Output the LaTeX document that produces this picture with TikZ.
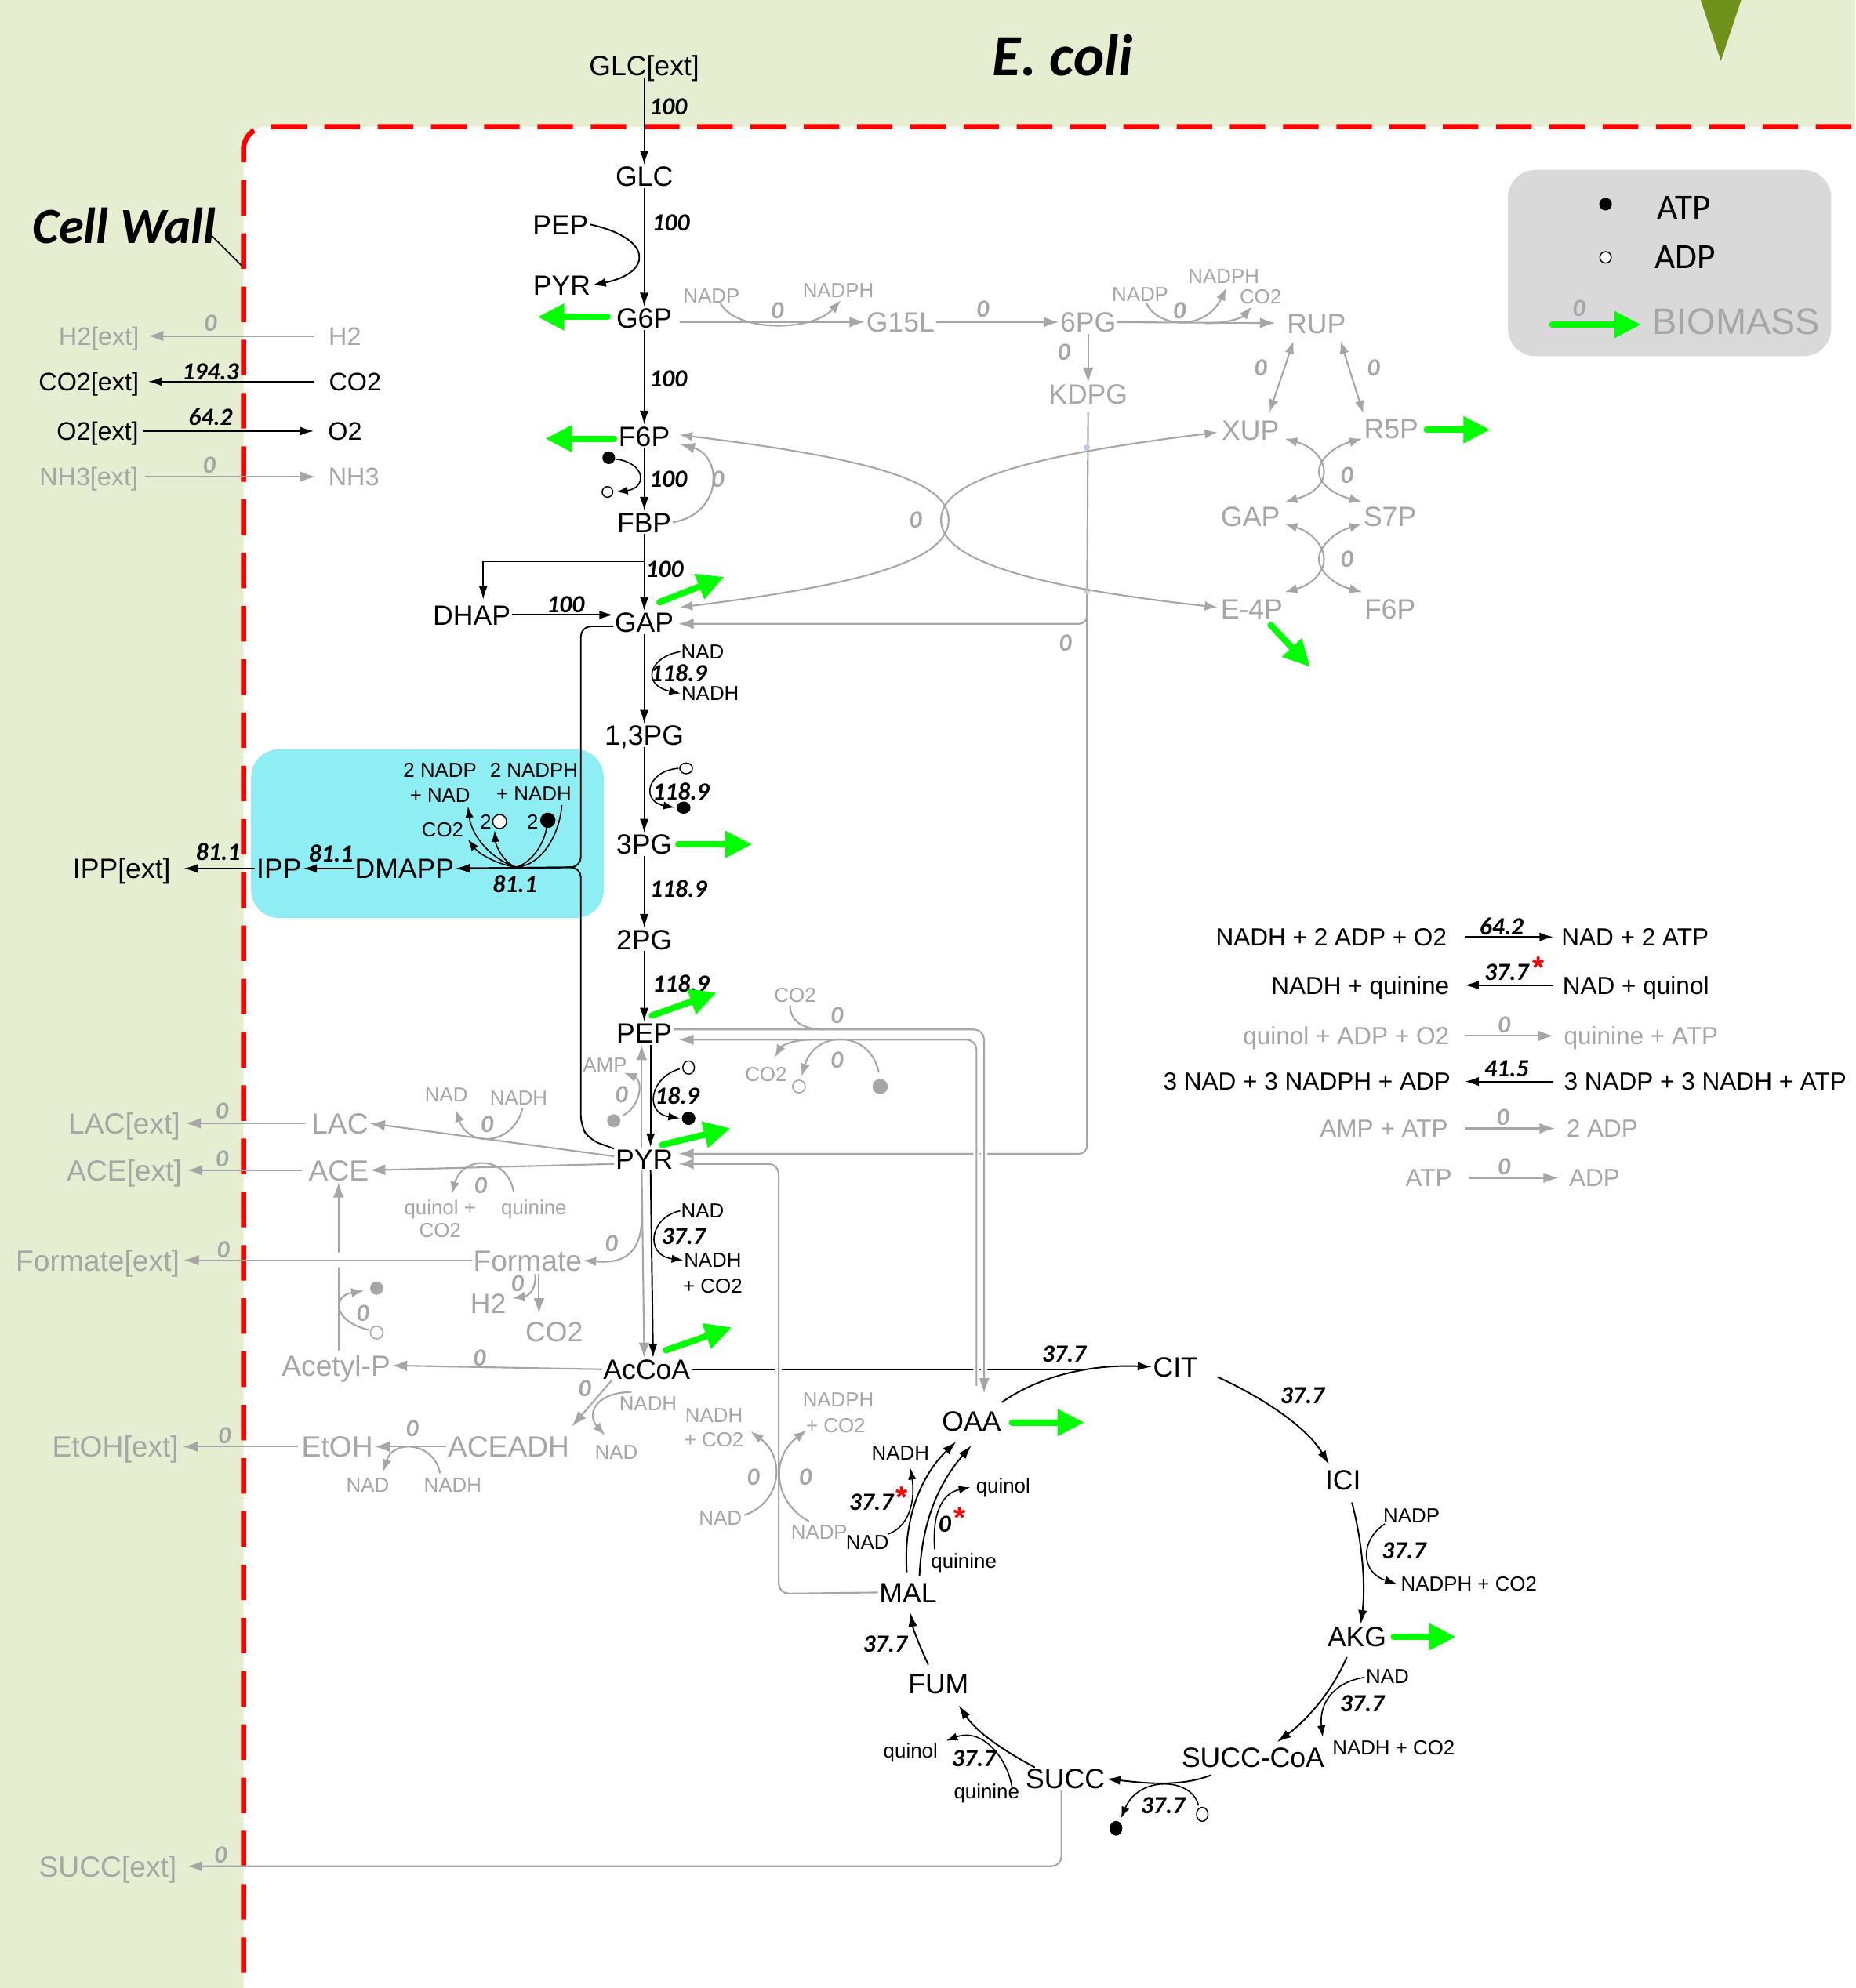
\documentclass[tikz,border=0pt]{standalone}
\usepackage{fontspec}
\setmainfont{Liberation Sans}
\newfontfamily\carl{Carlito}
\usetikzlibrary{arrows.meta}
\definecolor{bgg}{RGB}{229,238,208}
\definecolor{gr}{RGB}{166,166,166}
\definecolor{cyb}{RGB}{143,238,244}
\definecolor{lgb}{RGB}{217,217,217}
\definecolor{bio}{RGB}{0,255,0}
\definecolor{oliv}{RGB}{110,145,25}
\definecolor{wred}{RGB}{255,0,0}
\definecolor{jmp}{RGB}{185,205,230}
\begin{document}
\begin{tikzpicture}[x=1pt,y=-1pt,
 m/.style={font=\fontsize{22}{24}\selectfont,inner sep=1pt,text height=15.8pt,text depth=0pt},
 mg/.style={m,text=gr},
 xs/.style={font=\fontsize{20}{22}\selectfont,inner sep=1pt,text height=14.3pt,text depth=0pt},
 xg/.style={xs,text=gr},
 fg/.style={font=\fontsize{23}{25}\selectfont,inner sep=1pt,text height=16.5pt,text depth=0pt,text=gr},
 cf/.style={font=\fontsize{16}{17}\selectfont,inner sep=0.5pt,text height=11.5pt,text depth=0pt},
 cg/.style={cf,text=gr},
 nm/.style={font=\carl\bfseries\itshape\fontsize{19.5}{20}\selectfont,inner sep=0pt},
 ng/.style={nm,text=gr},
 rx/.style={font=\fontsize{19.5}{20}\selectfont,inner sep=0pt,text height=14pt,text depth=0pt},
 rg/.style={rx,text=gr},
 ast/.style={text=wred,font=\bfseries\fontsize{24}{24}\selectfont,inner sep=0pt},
 ln/.style={draw=black,line width=1.2pt},
 arr/.style={ln,-{Latex[length=11pt,width=7pt]}},
 sarr/.style={draw=black,line width=1pt,-{Latex[length=9pt,width=6.5pt]}},
 gln/.style={draw=gr,line width=1.3pt},
 garr/.style={gln,-{Latex[length=12pt,width=8.5pt]}},
 gsarr/.style={gln,-{Latex[length=10pt,width=7.5pt]}},
 gbi/.style={gln,{Latex[length=10pt,width=7.5pt]}-{Latex[length=10pt,width=7.5pt]}},
 bioarr/.style={draw=bio,line width=5pt,line cap=round,-{Triangle[length=21pt,width=20pt]}},
 wgap/.style={preaction={draw=white,line width=5pt,arrows=-}},
]
\useasboundingbox (0,0) rectangle (1463,1568);
% ---------- background ----------
\fill[bgg] (0,0) rectangle (1463,1568);
\fill[white,rounded corners=18pt] (192,1640) -- (192,100) -- (1540,100) -- (1540,1640) -- cycle;
\draw[wred,line width=4pt,dash pattern=on 28pt off 14pt,rounded corners=18pt] (192,1640) -- (192,100) -- (1540,100);
\fill[oliv] (1341,0) -- (1373,0) -- (1357,48) -- cycle;
\node[font=\carl\bfseries\itshape\fontsize{46}{50}\selectfont,inner sep=0] (title) at (838,44) {E. coli};
\node[font=\carl\bfseries\itshape\fontsize{40}{44}\selectfont,inner sep=0] (cw) at (98,178) {Cell Wall};
\draw[line width=1pt] (167,186) -- (191,210);
% ---------- legend ----------
\fill[lgb,rounded corners=22pt] (1189,134) rectangle (1444,281);
\fill (1266,161) circle (5);
\node[font=\carl\fontsize{28}{30}\selectfont] (latp) at (1328,164) {ATP};
\draw[line width=0.9pt,fill=white] (1266,203) circle (4.5);
\node[font=\carl\fontsize{28}{30}\selectfont] (ladp) at (1329,203) {ADP};
\coordinate (lb1) at (1224,256);
\coordinate (lb2) at (1294,256);
\draw[bioarr] (lb1) -- (lb2);
\node[ng] at (1245,243) {0};
\node[font=\fontsize{29}{30}\selectfont,text=gr] (lbio) at (1369,254) {BIOMASS};
% ---------- cyan box ----------
\fill[cyb,rounded corners=22pt] (198,591) rectangle (476,724);
% ---------- main nodes ----------
\node[m] (GLCe) at (508,52) {GLC[ext]};
\node[m] (GLC) at (508,139) {GLC};
\node[m] (PEPa) at (442,177) {PEP};
\node[m] (PYRa) at (443,225) {PYR};
\node[m] (G6P) at (508,251) {G6P};
\node[m] (F6P) at (508,344) {F6P};
\node[m] (FBP) at (508,412) {FBP};
\node[m] (DHAP) at (372,485) {DHAP};
\node[m] (GAP) at (508,491) {GAP};
\node[m] (PGa) at (508,580) {1,3PG};
\node[m] (PGb) at (508,666) {3PG};
\node[m] (PGc) at (508,741) {2PG};
\node[m] (PEP) at (508,815) {PEP};
\node[m] (PYR) at (508,914) {PYR};
\node[m] (AcCoA) at (510,1080) {AcCoA};
\node[m] (CIT) at (927,1078) {CIT};
\node[m] (ICI) at (1059,1167) {ICI};
\node[m] (AKG) at (1070,1291) {AKG};
\node[m] (SCoA) at (988,1386) {SUCC-CoA};
\node[m] (SUCC) at (840,1403) {SUCC};
\node[m] (FUM) at (740,1328) {FUM};
\node[m] (MAL) at (716,1256) {MAL};
\node[m] (OAA) at (766,1121) {OAA};
\node[m] (DMAPP) at (319,685) {DMAPP};
\node[m] (IPP) at (220,685) {IPP};
\node[m] (IPPe) at (96,685) {IPP[ext]};
% pentose
\node[mg] (G15L) at (710,254) {G15L};
\node[mg] (PG6) at (858,254) {6PG};
\node[mg] (KDPG) at (858,311) {KDPG};
\node[mg] (RUP) at (1038,255) {RUP};
\node[mg] (XUP) at (986,339) {XUP};
\node[mg] (R5P) at (1097,338) {R5P};
\node[mg] (GAPr) at (986,407) {GAP};
\node[mg] (S7P) at (1096,407) {S7P};
\node[mg] (E4P) at (987,480) {E-4P};
\node[mg] (F6Pr) at (1096,480) {F6P};
% exchange
\node[xg] (H2e) at (78,265) {H2[ext]};
\node[xg] (H2) at (272,265) {H2};
\node[xs] (CO2e) at (70,301) {CO2[ext]};
\node[xs] (CO2) at (280,301) {CO2};
\node[xs] (O2e) at (77,340) {O2[ext]};
\node[xs] (O2) at (272,340) {O2};
\node[xg] (NH3e) at (70,376) {NH3[ext]};
\node[xg] (NH3) at (279,376) {NH3};
% fermentation
\node[fg] (LAC) at (268,886) {LAC};
\node[fg] (ACE) at (267,923) {ACE};
\node[fg] (Form) at (416,994) {Formate};
\node[mg] (H2f) at (385,1028) {H2};
\node[mg] (CO2f) at (437,1050) {CO2};
\node[fg] (AcP) at (265,1077) {Acetyl-P};
\node[fg] (EtOH) at (266,1141) {EtOH};
\node[fg] (ACEADH) at (401,1141) {ACEADH};
\node[fg] (LACe) at (98,886) {LAC[ext]};
\node[fg] (ACEe) at (98,923) {ACE[ext]};
\node[fg] (Forme) at (77,994) {Formate[ext]};
\node[fg] (EtOHe) at (91,1141) {EtOH[ext]};
\node[fg] (SUCCe) at (85,1472) {SUCC[ext]};
% ---------- long gray lines with crossings ----------
\draw[ln] (AcCoA.east) -- (853,1080);
\draw[garr,rounded corners=6pt,shorten <=5pt] (KDPG.south) -- (857,492) -- (535,492);
\draw[garr,rounded corners=6pt] (857,480) -- (857,910) -- (535,910);
\draw[garr,wgap,rounded corners=8pt] ([yshift=3pt]PEP.east) -- (776,812) -- (776,1099);
\draw[garr,wgap,rounded corners=8pt] (770,1093) -- (770,820) -- (535,820);
\draw[garr,wgap,rounded corners=8pt] (MAL.west) -- (614,1257) -- (614,918) -- (535,918);
\fill[jmp] (857,353) circle (2.5);
\fill[jmp] (857,466) circle (2.5);
% ---------- glycolysis ----------
\draw[arr] (GLCe) -- (GLC);
\node[nm] at (527,84) {100};
\draw[arr] (GLC) -- (G6P);
\node[nm] at (529,176) {100};
\draw[arr] (PEPa.east) .. controls (515,188) and (515,215) .. (PYRa.east);
\draw[arr] (G6P) -- (F6P);
\node[nm] at (527,299) {100};
\draw[arr] (F6P) -- (FBP);
\node[nm] at (527,378) {100};
\fill (480,361) circle (5);
\draw[line width=0.9pt,fill=white] (479,388) circle (4.2);
\draw[sarr] (485,362) .. controls (510,365) and (510,385) .. (486,388);
\draw[garr] (FBP.east) .. controls (570,405) and (570,360) .. (536,350);
\node[ng] at (566,378) {0};
\draw[arr] (FBP) -- (GAP);
\node[nm] at (524,449) {100};
\draw[arr] (508,443) -- (381,443) -- (381,473);
\draw[arr] (DHAP.east) -- (DHAP.east -| GAP.west);
\node[nm] at (446,477) {100};
\node[cf] (nad1) at (554,514) {NAD};
\node[cf] (nadh1) at (560,547) {NADH};
\draw[arr] (GAP) -- (PGa);
\draw[sarr] (nad1.west) .. controls (512,518) and (505,540) .. (nadh1.west);
\node[nm] at (535,531) {118.9};
\draw[arr] (PGa) -- (PGb);
\draw[line width=0.9pt,fill=white] (541,606) ellipse (5 and 4.2);
\fill (539,637) ellipse (5.5 and 4.8);
\draw[sarr] (535,606) .. controls (510,608) and (505,632) .. (532,637);
\node[nm] at (537,624) {118.9};
\draw[arr] (PGb) -- (PGc);
\node[nm] at (535,701) {118.9};
\draw[arr] (PGc) -- (PEP);
\node[nm] at (537,776) {118.9};
\draw[arr] ([xshift=5pt]PEP.south) -- ([xshift=5pt]PYR.north);
\draw[garr] ([xshift=-2pt]PYR.north) -- ([xshift=-2pt]PEP.south);
\draw[line width=0.9pt,fill=white] (543,842) ellipse (4.6 and 5.2);
\fill (543,882) circle (5.3);
\draw[sarr] (536,843) .. controls (512,850) and (508,878) .. (536,882);
\node[nm] at (534,864) {18.9};
\node[cg] (amp) at (477,840) {AMP};
\fill[gr] (484,884) circle (5.2);
\draw[gsarr] (491,880) .. controls (506,872) and (507,852) .. (492,846);
\node[ng] at (490,863) {0};
\draw[arr] ([xshift=5pt]PYR.south) -- ([xshift=5pt]AcCoA.north);
\draw[garr] ([xshift=-2pt]PYR.south) -- ([xshift=-2pt]AcCoA.north);
\node[cf] (nad2) at (554,955) {NAD};
\node[cf] (nadh2) at (562,994) {NADH};
\node[cf] at (562,1014) {+ CO2};
\draw[sarr] (nad2.west) .. controls (512,960) and (508,990) .. (nadh2.west);
\node[nm] at (539,975) {37.7};
\draw[gsarr] (506,960) .. controls (506,990) and (490,997) .. (Form.east);
\node[ng] at (482,981) {0};
% ---------- IPP ----------
\draw[arr,rounded corners=8pt] ([yshift=-3pt]GAP.west) -- (458,494) -- (458,684) -- (DMAPP.east);
\draw[arr,rounded corners=8pt] ([yshift=8pt]PYR.west) -- (465,899) -- (458,888) -- (458,684) -- (DMAPP.east);
\coordinate (fan) at (407,684);
\draw[sarr] (fan) .. controls (393,682) and (378,674) .. (369,662);
\draw[sarr] (fan) .. controls (388,678) and (372,660) .. (369,636);
\draw[sarr] (fan) .. controls (398,681) and (391,668) .. (390,655);
\draw[draw=black,line width=1pt] (fan) .. controls (420,680) and (429,665) .. (431,653);
\draw[draw=black,line width=1pt] (fan) .. controls (426,683) and (441,660) .. (443,635);
\node[cf] at (347,607) {2 NADP};
\node[cf] at (347,627) {+ NAD};
\node[cf] at (421,607) {2 NADPH};
\node[cf] at (421,626) {+ NADH};
\node[cf] at (349,654) {CO2};
\node[cf] at (383,648) {2};
\draw[line width=0.9pt,fill=white] (394,648) circle (5.5);
\node[cf] at (420,648) {2};
\fill (432,647) circle (6);
\node[nm] at (406,697) {81.1};
\draw[arr] (DMAPP.west) -- (IPP.east);
\node[nm] at (261,673) {81.1};
\draw[arr,shorten >=9pt] (IPP.west) -- (IPPe.east);
\node[nm] at (172,672) {81.1};
% ---------- exchanges ----------
\draw[garr,shorten <=10pt,shorten >=6pt] (H2.west) -- (H2e.east);
\node[ng] at (166,255) {0};
\draw[arr,shorten <=10pt,shorten >=6pt] (CO2.west) -- (CO2e.east);
\node[nm] at (166,293) {194.3};
\draw[arr,shorten <=2pt,shorten >=10pt] (O2e.east) -- (O2.west);
\node[nm] at (166,329) {64.2};
\draw[garr,shorten <=4pt,shorten >=9pt] (NH3e.east) -- (NH3.west);
\node[ng] at (165,367) {0};
% ---------- pentose phosphate ----------
\node[cg] (nadp1) at (561,233) {NADP};
\node[cg] (nadph1) at (661,229) {NADPH};
\draw[garr] ([xshift=5pt,yshift=-3pt]G6P.east) -- (G15L.west);
\draw[gsarr] (568,239) .. controls (580,262) and (640,262) .. (663,237);
\node[ng] at (613,245) {0};
\draw[garr] (G15L) -- (PG6);
\node[ng] at (775,244) {0};
\node[cg] (nadp2) at (899,232) {NADP};
\node[cg] (nadph2) at (965,218) {NADPH};
\node[cg] (co2a) at (994,234) {CO2};
\draw[garr,shorten >=8pt] (PG6) -- (RUP);
\draw[gsarr] (904,239) .. controls (912,258) and (950,262) .. (967,227);
\draw[gsarr] (950,255) .. controls (970,255) and (980,250) .. (987,242);
\node[ng] at (930,245) {0};
\draw[garr] (PG6) -- (KDPG);
\node[ng] at (839,278) {0};
\node[ng] at (840,507) {0};
\draw[gbi] (1020,269) -- (1001,325);
\node[ng] at (994,290) {0};
\draw[gbi] (1057,269) -- (1075,326);
\node[ng] at (1083,290) {0};
\draw[gbi] (1013,346) .. controls (1035,352) and (1044,362) .. (1044,372) .. controls (1044,382) and (1035,390) .. (1013,396);
\draw[gbi] (1074,346) .. controls (1052,352) and (1040,362) .. (1040,372) .. controls (1040,382) and (1052,390) .. (1074,396);
\node[ng] at (1062,375) {0};
\draw[gbi] (1013,413) .. controls (1035,420) and (1044,431) .. (1044,441) .. controls (1044,451) and (1035,461) .. (1013,467);
\draw[gbi] (1074,413) .. controls (1052,420) and (1040,431) .. (1040,441) .. controls (1040,451) and (1052,461) .. (1074,467);
\node[ng] at (1062,441) {0};
\draw[gbi] (536,343) .. controls (690,362) and (748,380) .. (748,410) .. controls (748,440) and (690,460) .. (536,479);
\draw[gbi] (960,341) .. controls (805,360) and (742,380) .. (742,410) .. controls (742,440) and (805,462) .. (960,479);
\node[ng] at (722,410) {0};
% ---------- fermentation ----------
\draw[garr] ([yshift=2pt]PYR.west) -- (LAC.east);
\draw[garr] ([yshift=-4pt]PYR.west) -- (ACE.east);
\node[cg] at (352,863) {NAD};
\node[cg] at (409,866) {NADH};
\draw[gsarr] (412,874) .. controls (405,903) and (370,906) .. (359,875);
\node[ng] at (384,887) {0};
\node[cg] at (347,952) {quinol +};
\node[cg] at (347,970) {CO2};
\node[cg] at (421,952) {quinine};
\draw[gsarr] (405,940) .. controls (400,911) and (365,911) .. (356,942);
\node[ng] at (379,935) {0};
\draw[garr,shorten <=4pt,shorten >=3pt] (LAC.west) -- (LACe.east);
\node[ng] at (175,876) {0};
\draw[garr,shorten <=4pt,shorten >=3pt] (ACE.west) -- (ACEe.east);
\node[ng] at (175,914) {0};
\draw[garr,shorten <=2pt] ([xshift=2pt]AcP.north) -- ([xshift=0pt]ACE.south);
\draw[draw=white,line width=5pt] (267,988) -- (267,1000);
\draw[garr,shorten >=2pt] (Form.west) -- (Forme.east);
\node[ng] at (176,986) {0};
\draw[garr] (425,1005) -- (425,1036);
\draw[gsarr] (422,1005) .. controls (423,1015) and (418,1022) .. (404,1024);
\node[ng] at (408,1012) {0};
\draw[garr] (AcCoA.west) -- (AcP.east);
\node[ng] at (378,1071) {0};
\fill[gr] (297,1016) circle (5.2);
\draw[gr,line width=1pt,fill=white] (297,1051) circle (5);
\draw[gsarr] (291,1049) .. controls (262,1042) and (262,1022) .. (287,1018);
\node[ng] at (286,1036) {0};
\draw[garr] (483,1088) -- (451,1125);
\node[cg] at (511,1107) {NADH};
\node[cg] at (486,1145) {NAD};
\draw[gsarr] (498,1098) .. controls (470,1098) and (462,1115) .. (477,1132);
\node[ng] at (461,1095) {0};
\draw[garr] (ACEADH.west) -- (EtOH.east);
\node[cg] at (290,1171) {NAD};
\node[cg] at (357,1171) {NADH};
\draw[gsarr] (347,1162) .. controls (342,1137) and (310,1135) .. (302,1161);
\node[ng] at (325,1127) {0};
\draw[garr,shorten <=2pt,shorten >=2pt] (EtOH.west) -- (EtOHe.east);
\node[ng] at (177,1132) {0};
\draw[garr,rounded corners=8pt,shorten >=7pt] ([xshift=-3pt]SUCC.south) -- (837,1472) -- (SUCCe.east);
\node[ng] at (174,1463) {0};
% ---------- PEP / OAA cofactors ----------
\node[cg] at (627,785) {CO2};
\draw[gln] (623,793) .. controls (623,806) and (634,812) .. (650,812);
\node[ng] at (660,801) {0};
\node[cg] at (604,847) {CO2};
\draw[gsarr] (640,820) .. controls (625,820) and (616,825) .. (611,834);
\fill[gr] (694,857) circle (6);
\draw[gr,line width=1pt,fill=white] (630,857) circle (5);
\draw[gsarr] (693,846) .. controls (686,812) and (643,812) .. (632,849);
\node[ng] at (660,836) {0};
% malic enzymes
\node[cg] at (563,1116) {NADH};
\node[cg] at (563,1135) {+ CO2};
\node[cg] at (568,1197) {NAD};
\node[cg] at (661,1104) {NADPH};
\node[cg] at (659,1124) {+ CO2};
\node[cg] at (646,1208) {NADP};
\draw[gsarr] (587,1195) .. controls (616,1185) and (620,1150) .. (592,1129);
\draw[gsarr] (638,1200) .. controls (610,1185) and (607,1150) .. (636,1128);
\node[ng] at (594,1165) {0};
\node[ng] at (635,1165) {0};
% ---------- TCA ----------
\draw[arr] (790,1106) .. controls (820,1085) and (860,1076) .. (CIT.west);
\node[nm] at (839,1068) {37.7};
\draw[arr] (960,1086) .. controls (995,1102) and (1030,1125) .. (1048,1155);
\node[nm] at (1027,1101) {37.7};
\draw[arr] (1066,1185) .. controls (1074,1215) and (1077,1250) .. (1073,1281);
\node[cf] (nadp3) at (1113,1195) {NADP};
\node[cf,anchor=west] at (1104,1249) {NADPH + CO2};
\draw[sarr] (1092,1202) .. controls (1073,1214) and (1072,1240) .. (1101,1249);
\node[nm] at (1107,1223) {37.7};
\draw[arr] (1062,1307) .. controls (1050,1335) and (1030,1357) .. (1007,1374);
\node[cf] (nad3) at (1094,1322) {NAD};
\node[cf,anchor=west] at (1050,1378) {NADH + CO2};
\draw[sarr] (1076,1323) .. controls (1050,1327) and (1040,1345) .. (1043,1370);
\node[nm] at (1074,1344) {37.7};
\draw[arr] (955,1400) .. controls (930,1410) and (900,1406) .. (SUCC.east);
\draw[line width=0.9pt,fill=white] (948,1431) ellipse (4.5 and 5.5);
\fill (880,1442) ellipse (5 and 5.8);
\draw[sarr] (945,1424) .. controls (940,1402) and (898,1400) .. (884,1434);
\node[nm] at (917,1424) {37.7};
\draw[arr] (816,1394) .. controls (790,1380) and (770,1366) .. (756,1345);
\node[cf] at (718,1381) {quinol};
\node[cf] at (778,1413) {quinine};
\draw[sarr] (798,1410) .. controls (795,1388) and (775,1362) .. (746,1373);
\node[nm] at (768,1387) {37.7};
\draw[arr] (732,1313) .. controls (725,1298) and (720,1285) .. (718,1272);
\node[nm] at (698,1297) {37.7};
\draw[arr] (715,1240) .. controls (712,1195) and (728,1162) .. (754,1137);
\draw[arr] (725,1243) .. controls (727,1200) and (740,1170) .. (766,1140);
\node[cf] at (684,1216) {NAD};
\node[cf] at (710,1146) {NADH};
\draw[sarr] (700,1210) .. controls (716,1205) and (722,1185) .. (718,1158);
\node[nm] at (687,1185) {37.7};
\node[ast] at (711,1181) {*};
\node[cf] at (791,1172) {quinol};
\node[cf] at (760,1231) {quinine};
\draw[sarr] (737,1222) .. controls (735,1195) and (742,1178) .. (765,1173);
\node[nm] at (745,1202) {0};
\node[ast] at (757,1197) {*};
% ---------- right side reactions ----------
\node[rx,anchor=east] (r1a) at (1141,739) {NADH + 2 ADP + O2};
\node[rx,anchor=west] (r1b) at (1231,739) {NAD + 2 ATP};
\draw[arr,shorten <=14pt,shorten >=6pt] (r1a.east) -- (r1b.west);
\node[nm] at (1184,731) {64.2};
\node[rx,anchor=east] (r2a) at (1143,777) {NADH + quinine};
\node[rx,anchor=west] (r2b) at (1232,777) {NAD + quinol};
\draw[arr,shorten <=7pt,shorten >=12pt] (r2b.west) -- (r2a.east);
\node[nm] at (1188,767) {37.7};
\node[ast] at (1213,763) {*};
\node[rg,anchor=east] (r3a) at (1143,817) {quinol + ADP + O2};
\node[rg,anchor=west] (r3b) at (1233,817) {quinine + ATP};
\draw[garr,shorten <=12pt,shorten >=8pt] (r3a.east) -- (r3b.west);
\node[ng] at (1186,808) {0};
\node[rx,anchor=east] (r4a) at (1144,853) {3 NAD + 3 NADPH + ADP};
\node[rx,anchor=west] (r4b) at (1233,853) {3 NADP + 3 NADH + ATP};
\draw[arr,shorten <=8pt,shorten >=11pt] (r4b.west) -- (r4a.east);
\node[nm] at (1188,843) {41.5};
\node[rg,anchor=east] (r5a) at (1142,890) {AMP + ATP};
\node[rg,anchor=west] (r5b) at (1235,890) {2 ADP};
\draw[garr,shorten <=13pt,shorten >=9pt] (r5a.east) -- (r5b.west);
\node[ng] at (1185,881) {0};
\node[rg,anchor=east] (r6a) at (1145,929) {ATP};
\node[rg,anchor=west] (r6b) at (1237,929) {ADP};
\draw[garr,shorten <=13pt,shorten >=8pt] (r6a.east) -- (r6b.west);
\node[ng] at (1186,920) {0};
% ---------- biomass arrows ----------
\draw[bioarr] (479,250) -- (424,250);
\draw[bioarr] (484,346) -- (430,346);
\draw[bioarr] (520,475) -- (571,455);
\draw[bioarr] (535,666) -- (593,666);
\draw[bioarr] (514,801) -- (565,783);
\draw[bioarr] (522,903) -- (576,890);
\draw[bioarr] (525,1065) -- (577,1047);
\draw[bioarr] (798,1122) -- (855,1122);
\draw[bioarr] (1099,1291) -- (1148,1291);
\draw[bioarr] (1125,339) -- (1175,339);
\draw[bioarr] (1002,493) -- (1033,526);
\end{tikzpicture}
\end{document}
